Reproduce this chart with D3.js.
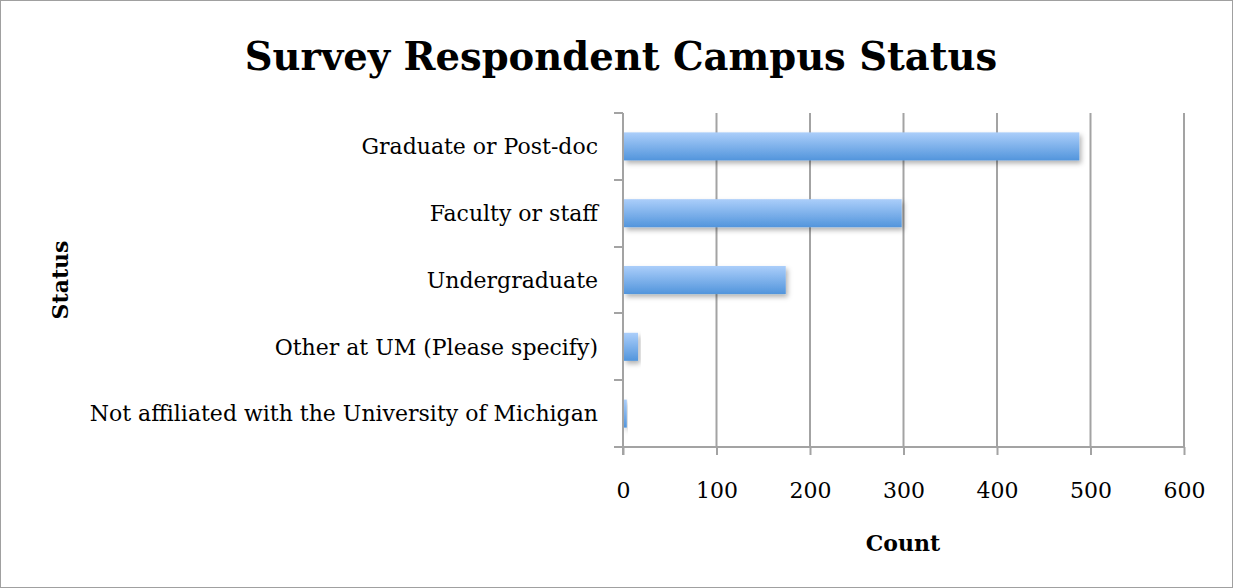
<!DOCTYPE html>
<html>
<head>
<meta charset="utf-8">
<script src="https://cdn.jsdelivr.net/npm/d3@7"></script>
<style>
  body { margin: 0; background: #fff; }
  text { font-family: "DejaVu Serif", serif; fill: #000; }
</style>
</head>
<body>
<div id="chart"></div>
<script>
// data
var categories = ["Graduate or Post-doc", "Faculty or staff", "Undergraduate",
                  "Other at UM (Please specify)", "Not affiliated with the University of Michigan"];
var counts = [487, 297, 173, 15, 3];
var xTicks = [0, 100, 200, 300, 400, 500, 600];

var W = 1233, H = 588;
var margin = {top: 113, right: 49, bottom: 141, left: 623},
    width = W - margin.left - margin.right,
    height = H - margin.top - margin.bottom;

var lineColor = "#a3a3a3";

var svg = d3.select("#chart").append("svg")
    .attr("width", W)
    .attr("height", H);

// outer frame
svg.append("rect")
    .attr("x", 0.5).attr("y", 0.5)
    .attr("width", W - 1).attr("height", H - 1)
    .attr("fill", "#fff").attr("stroke", "#a0a0a0");

var defs = svg.append("defs");
var grad = defs.append("linearGradient")
    .attr("id", "barGrad")
    .attr("x1", 0).attr("y1", 0).attr("x2", 0).attr("y2", 1);
grad.append("stop").attr("offset", "0%").attr("stop-color", "#abcefa");
grad.append("stop").attr("offset", "100%").attr("stop-color", "#5295dc");

var shadow = defs.append("filter").attr("id", "shadow")
    .attr("x", "-10%").attr("y", "-30%").attr("width", "130%").attr("height", "180%");
shadow.append("feDropShadow")
    .attr("dx", 2).attr("dy", 3).attr("stdDeviation", 2.5)
    .attr("flood-color", "#000").attr("flood-opacity", 0.3);

var g = svg.append("g")
    .attr("transform", "translate(" + margin.left + "," + margin.top + ")");

var x = d3.scaleLinear().domain([0, 600]).range([0, width]);
var y = d3.scaleBand().domain(categories).range([0, height]).paddingInner(0.58).paddingOuter(0.29);

// vertical gridlines
g.selectAll(".grid")
    .data(xTicks.slice(1))
    .enter().append("line")
    .attr("class", "grid")
    .attr("x1", function (d) { return x(d); })
    .attr("x2", function (d) { return x(d); })
    .attr("y1", 0).attr("y2", height)
    .attr("stroke", lineColor).attr("stroke-width", 2);

// bars
g.selectAll(".bar")
    .data(counts)
    .enter().append("rect")
    .attr("class", "bar")
    .attr("x", x(0) + 1)
    .attr("y", function (d, i) { return y(categories[i]); })
    .attr("width", function (d) { return x(d) - x(0); })
    .attr("height", y.bandwidth())
    .attr("fill", "url(#barGrad)")
    .attr("filter", "url(#shadow)");

// x axis
var xAxis = g.append("g")
    .attr("transform", "translate(0," + height + ")")
    .call(d3.axisBottom(x).tickValues(xTicks).tickSize(8).tickPadding(27));
xAxis.select(".domain").attr("stroke", lineColor).attr("stroke-width", 2)
    .attr("d", "M0,0H" + width);
xAxis.selectAll(".tick line").attr("stroke", lineColor).attr("stroke-width", 2);
xAxis.selectAll(".tick text")
    .style("font-family", "DejaVu Serif, serif")
    .style("font-size", "22px");

// y axis: ticks sit at the band boundaries
var yAxisG = g.append("g");
yAxisG.append("line")
    .attr("x1", 0).attr("x2", 0).attr("y1", 0).attr("y2", height + 8)
    .attr("stroke", lineColor).attr("stroke-width", 2);
var step = y.step();
yAxisG.selectAll(".ytick")
    .data(d3.range(categories.length + 1))
    .enter().append("line")
    .attr("x1", -9).attr("x2", 0)
    .attr("y1", function (d) { return Math.round(d * step); })
    .attr("y2", function (d) { return Math.round(d * step); })
    .attr("stroke", lineColor).attr("stroke-width", 2);

// category labels
g.selectAll(".cat")
    .data(categories)
    .enter().append("text")
    .attr("class", "cat")
    .attr("x", -25)
    .attr("y", function (d) { return y(d) + y.bandwidth() / 2; })
    .attr("dy", "0.35em")
    .attr("text-anchor", "end")
    .style("font-size", "22px")
    .text(function (d) { return d; });

// title
svg.append("text")
    .attr("x", 621).attr("y", 70)
    .attr("text-anchor", "middle")
    .style("font-size", "38.5px")
    .style("font-weight", "bold")
    .text("Survey Respondent Campus Status");

// axis titles
svg.append("text")
    .attr("x", 903).attr("y", 551)
    .attr("text-anchor", "middle")
    .style("font-size", "22px")
    .style("font-weight", "bold")
    .text("Count");

svg.append("text")
    .attr("transform", "translate(68,280) rotate(-90)")
    .attr("text-anchor", "middle")
    .style("font-size", "22px")
    .style("font-weight", "bold")
    .text("Status");
</script>
</body>
</html>
